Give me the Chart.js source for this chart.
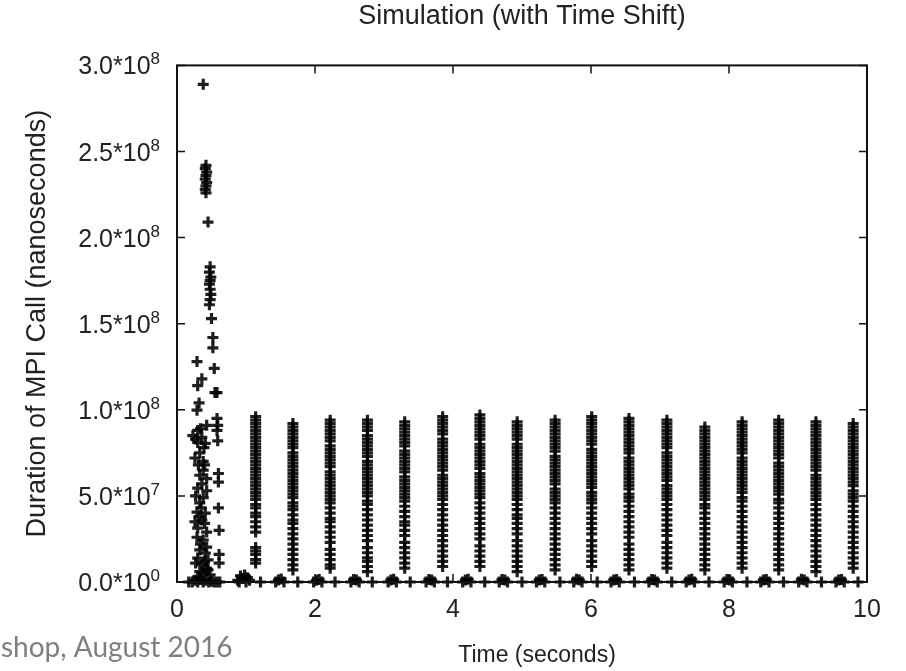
<!DOCTYPE html>
<html lang="en">
<head>
    <meta charset="UTF-8">
    <title>Simulation (with Time Shift)</title>
    <script src="https://cdn.jsdelivr.net/npm/chart.js"></script>
    <style>
        body {
            margin: 0;
            background: #fff;
        }
        #wrap {
            width: 906px;
            height: 671px;
        }
    </style>
</head>
<body>
    <div id="wrap">
        <canvas id="mpiChart" width="906" height="671"></canvas>
    </div>

    <script>
        // values are in units of 1e7 ns, x is in seconds
        const UNIT = 1e7;

        const xTicks = [0, 2, 4, 6, 8, 10];
        const yTickMantissa = ['0.0*10', '5.0*10', '1.0*10', '1.5*10', '2.0*10', '2.5*10', '3.0*10'];
        const yTickExponent = ['0', '7', '8', '8', '8', '8', '8'];

        // early burst, first half second
        const burstPoints = [
            [0.38, 28.9],
            [0.42, 24.2], [0.41, 24.0], [0.43, 23.8], [0.42, 23.6], [0.41, 23.4], [0.43, 23.2], [0.42, 23.0], [0.41, 22.8], [0.42, 22.6],
            [0.45, 20.9],
            [0.48, 18.3], [0.47, 18.0], [0.49, 17.7], [0.48, 17.5], [0.47, 17.3], [0.48, 17.0], [0.49, 16.7], [0.48, 16.4], [0.47, 16.1],
            [0.50, 15.3], [0.52, 14.2], [0.52, 13.6],
            [0.29, 12.8], [0.54, 12.4], [0.36, 11.8], [0.30, 11.4], [0.55, 11.0], [0.32, 10.4], [0.29, 9.98],
            [0.43, 9.1], [0.30, 8.8], [0.23, 8.5], [0.36, 8.4], [0.30, 8.1], [0.41, 8.05], [0.33, 7.5], [0.38, 7.0],
            [0.27, 8.3], [0.34, 8.9], [0.39, 7.8], [0.26, 7.2], [0.31, 6.8], [0.40, 6.8],
            [0.38, 6.5], [0.33, 6.2], [0.43, 6.0], [0.36, 5.7], [0.30, 5.45], [0.43, 5.3], [0.38, 4.9], [0.33, 4.6],
            [0.27, 5.0], [0.35, 4.3], [0.40, 3.4], [0.32, 3.8], [0.26, 3.5], [0.34, 2.2],
            [0.29, 4.06], [0.41, 4.0], [0.36, 3.6], [0.30, 3.13], [0.43, 2.9], [0.29, 2.6], [0.38, 2.44], [0.43, 2.03],
            [0.33, 1.86], [0.41, 1.68], [0.30, 1.39], [0.45, 1.28], [0.36, 0.99], [0.43, 0.81], [0.38, 0.52], [0.48, 0.41],
            [0.27, 1.1], [0.40, 1.2], [0.33, 0.6], [0.45, 0.7], [0.30, 0.3],
            [0.58, 11.0], [0.58, 9.5], [0.59, 9.1], [0.58, 8.8], [0.59, 8.2], [0.60, 6.3], [0.60, 5.8],
            [0.60, 4.3], [0.61, 3.0], [0.61, 1.6], [0.61, 1.1]
        ];

        // the periodic columns
        const columnX = [1.14, 1.68, 2.22, 2.76, 3.30, 3.85, 4.39, 4.93, 5.48, 6.01, 6.55, 7.10, 7.65, 8.19, 8.72, 9.26, 9.80];
        const columnY = [
            [9.6, 9.4, 9.2, 9.0, 8.8, 8.6, 8.4, 8.2, 8.0, 7.8, 7.6, 7.4, 7.2, 7.0, 6.8, 6.6, 6.4, 6.2, 6.0, 5.8, 5.6, 5.4, 5.2, 5.0, 4.8, 4.5, 4.3, 4.0, 3.8, 3.5, 3.2, 2.9, 2.0, 1.8, 1.6, 1.3, 1.1],
            [9.2, 9.0, 8.8, 8.6, 8.4, 8.2, 8.0, 7.8, 7.5, 7.3, 7.1, 6.9, 6.7, 6.5, 6.3, 6.1, 5.9, 5.7, 5.5, 5.3, 5.1, 4.9, 4.6, 4.4, 4.2, 3.9, 3.6, 3.4, 3.1, 2.8, 2.5, 2.2, 1.9, 1.6, 1.3, 1.0, 0.7],
            [9.4, 9.2, 9.0, 8.8, 8.6, 8.4, 8.2, 7.9, 7.7, 7.5, 7.3, 7.1, 6.9, 6.7, 6.4, 6.2, 6.0, 5.8, 5.6, 5.4, 5.2, 5.0, 4.8, 4.6, 4.3, 4.0, 3.7, 3.5, 3.2, 2.9, 2.6, 2.3, 1.9, 1.6, 1.3, 1.0, 0.8],
            [9.4, 9.2, 9.0, 8.8, 8.5, 8.3, 8.1, 7.9, 7.7, 7.5, 7.3, 7.0, 6.8, 6.6, 6.4, 6.2, 6.0, 5.8, 5.6, 5.4, 5.2, 5.0, 4.7, 4.5, 4.2, 3.9, 3.6, 3.3, 3.0, 2.7, 2.4, 2.0, 1.7, 1.4, 1.2, 0.9, 0.6],
            [9.3, 9.1, 8.9, 8.7, 8.5, 8.3, 8.1, 7.9, 7.6, 7.4, 7.2, 7.0, 6.8, 6.6, 6.4, 6.1, 5.9, 5.7, 5.5, 5.3, 5.1, 4.9, 4.7, 4.4, 4.1, 3.8, 3.5, 3.3, 3.0, 2.7, 2.3, 2.0, 1.7, 1.4, 1.1, 0.8],
            [9.6, 9.4, 9.2, 9.0, 8.8, 8.6, 8.3, 8.1, 7.9, 7.7, 7.5, 7.3, 7.1, 6.9, 6.7, 6.5, 6.2, 6.0, 5.8, 5.6, 5.4, 5.2, 5.0, 4.8, 4.5, 4.2, 3.9, 3.6, 3.3, 3.0, 2.7, 2.4, 2.1, 1.8, 1.5, 1.2, 0.9],
            [9.7, 9.5, 9.3, 9.1, 8.9, 8.7, 8.5, 8.3, 8.0, 7.8, 7.6, 7.4, 7.2, 7.0, 6.8, 6.6, 6.3, 6.1, 5.9, 5.7, 5.5, 5.3, 5.1, 4.9, 4.6, 4.3, 4.0, 3.7, 3.4, 3.1, 2.8, 2.5, 2.1, 1.8, 1.5, 1.2, 0.9],
            [9.3, 9.1, 8.9, 8.7, 8.5, 8.3, 8.0, 7.8, 7.6, 7.4, 7.2, 7.0, 6.8, 6.6, 6.4, 6.2, 6.0, 5.8, 5.6, 5.4, 5.2, 5.0, 4.8, 4.5, 4.2, 3.9, 3.7, 3.4, 3.1, 2.8, 2.4, 2.1, 1.8, 1.5, 1.2, 0.9, 0.6],
            [9.4, 9.2, 9.0, 8.8, 8.6, 8.4, 8.2, 8.0, 7.8, 7.6, 7.3, 7.1, 6.9, 6.7, 6.5, 6.3, 6.1, 5.9, 5.7, 5.4, 5.2, 5.0, 4.8, 4.6, 4.3, 4.0, 3.7, 3.4, 3.1, 2.8, 2.5, 2.2, 1.9, 1.6, 1.3, 1.0, 0.7],
            [9.6, 9.4, 9.2, 9.0, 8.8, 8.6, 8.4, 8.2, 8.0, 7.7, 7.5, 7.3, 7.1, 6.9, 6.7, 6.5, 6.3, 6.1, 5.9, 5.7, 5.5, 5.2, 5.0, 4.8, 4.6, 4.3, 4.0, 3.7, 3.4, 3.1, 2.8, 2.4, 2.1, 1.8, 1.5, 1.2, 0.9],
            [9.5, 9.3, 9.1, 8.9, 8.7, 8.5, 8.3, 8.1, 7.9, 7.7, 7.5, 7.2, 7.0, 6.8, 6.6, 6.4, 6.2, 6.0, 5.8, 5.6, 5.4, 5.1, 4.9, 4.7, 4.4, 4.1, 3.8, 3.5, 3.2, 2.9, 2.6, 2.2, 1.9, 1.6, 1.3, 1.0, 0.7],
            [9.4, 9.2, 9.0, 8.8, 8.6, 8.4, 8.2, 8.0, 7.8, 7.5, 7.3, 7.1, 6.9, 6.7, 6.5, 6.3, 6.1, 5.9, 5.6, 5.4, 5.2, 5.0, 4.8, 4.5, 4.2, 3.9, 3.6, 3.3, 3.0, 2.7, 2.3, 2.0, 1.7, 1.4, 1.1, 0.8],
            [9.0, 8.8, 8.6, 8.4, 8.2, 8.0, 7.8, 7.6, 7.4, 7.2, 7.0, 6.8, 6.6, 6.4, 6.2, 6.0, 5.8, 5.6, 5.4, 5.2, 5.0, 4.8, 4.5, 4.3, 4.0, 3.7, 3.4, 3.1, 2.8, 2.5, 2.2, 1.9, 1.6, 1.3, 1.0, 0.7],
            [9.3, 9.1, 8.9, 8.7, 8.5, 8.3, 8.1, 7.9, 7.7, 7.5, 7.2, 7.0, 6.8, 6.6, 6.4, 6.2, 6.0, 5.8, 5.6, 5.4, 5.2, 4.9, 4.7, 4.4, 4.1, 3.8, 3.5, 3.2, 2.9, 2.6, 2.3, 2.0, 1.7, 1.4, 1.1, 0.8],
            [9.4, 9.2, 9.0, 8.8, 8.6, 8.4, 8.2, 8.0, 7.8, 7.6, 7.4, 7.2, 6.9, 6.7, 6.5, 6.3, 6.1, 5.9, 5.7, 5.5, 5.3, 5.1, 4.8, 4.6, 4.3, 4.0, 3.7, 3.4, 3.1, 2.8, 2.5, 2.2, 1.9, 1.6, 1.3, 1.0, 0.7],
            [9.3, 9.1, 8.9, 8.7, 8.5, 8.3, 8.1, 7.9, 7.7, 7.5, 7.3, 7.1, 6.9, 6.7, 6.5, 6.2, 6.0, 5.8, 5.6, 5.4, 5.2, 5.0, 4.8, 4.5, 4.2, 3.9, 3.6, 3.3, 3.0, 2.7, 2.4, 2.1, 1.8, 1.5, 1.2, 0.9, 0.6],
            [9.2, 9.0, 8.8, 8.6, 8.4, 8.2, 8.0, 7.8, 7.6, 7.4, 7.2, 7.0, 6.8, 6.6, 6.4, 6.2, 6.0, 5.8, 5.6, 5.3, 5.1, 4.9, 4.7, 4.4, 4.1, 3.8, 3.5, 3.2, 2.9, 2.6, 2.3, 2.0, 1.7, 1.4, 1.1, 0.8]
        ];

        // short calls sitting on the floor
        const floorPoints = [
            [0.17, 0], [0.22, 0], [0.26, 0.1], [0.30, 0], [0.34, 0.15], [0.38, 0], [0.42, 0.1], [0.46, 0], [0.50, 0.05], [0.54, 0], [0.58, 0], [0.62, 0],
            [0.88, 0.1], [0.90, 0], [0.92, 0.35], [0.95, 0.2], [0.98, 0.4], [1.00, 0], [1.02, 0.25], [1.05, 0.1], [1.21, 0],
            [1.43, 0], [1.47, 0.12], [1.51, 0.18], [1.55, 0], [1.75, 0],
            [1.98, 0], [2.02, 0.1], [2.06, 0.15], [2.10, 0], [2.29, 0],
            [2.52, 0], [2.56, 0.14], [2.60, 0.12], [2.64, 0], [2.83, 0],
            [3.06, 0], [3.10, 0.12], [3.14, 0.16], [3.18, 0], [3.38, 0],
            [3.61, 0], [3.65, 0.15], [3.69, 0.12], [3.73, 0], [3.92, 0],
            [4.14, 0], [4.18, 0.12], [4.22, 0.16], [4.26, 0], [4.46, 0],
            [4.67, 0], [4.71, 0.14], [4.75, 0.12], [4.79, 0], [5.00, 0],
            [5.21, 0], [5.25, 0.12], [5.29, 0.15], [5.33, 0], [5.55, 0],
            [5.75, 0], [5.79, 0.16], [5.83, 0.12], [5.87, 0], [6.09, 0],
            [6.29, 0], [6.33, 0.12], [6.37, 0.14], [6.41, 0], [6.63, 0],
            [6.84, 0], [6.88, 0.15], [6.92, 0.12], [6.96, 0], [7.17, 0],
            [7.38, 0], [7.42, 0.12], [7.46, 0.16], [7.50, 0], [7.71, 0],
            [7.93, 0], [7.97, 0.14], [8.01, 0.12], [8.05, 0], [8.26, 0],
            [8.46, 0], [8.50, 0.12], [8.54, 0.15], [8.58, 0], [8.79, 0],
            [9.01, 0], [9.05, 0.16], [9.09, 0.12], [9.13, 0], [9.34, 0],
            [9.55, 0], [9.59, 0.12], [9.63, 0.14], [9.67, 0], [9.87, 0]
        ];

        // build point list for chart.js
        const points = [];
        burstPoints.forEach(p => points.push({x: p[0], y: p[1] * UNIT}));
        columnX.forEach((cx, i) => {
            columnY[i].forEach(v => points.push({x: cx, y: v * UNIT}));
        });
        floorPoints.forEach(p => points.push({x: p[0], y: p[1] * UNIT}));

        const FONT = '"Liberation Sans", Arial, sans-serif';
        const TEXT = '#222';

        // frame with inward ticks on all four sides, y labels with raised exponent, x title, footer
        const framePlugin = {
            id: 'frame',
            afterDatasetsDraw(chart) {
                const {ctx, chartArea: a, scales: {x, y}} = chart;
                ctx.save();
                ctx.strokeStyle = '#111';
                ctx.lineWidth = 2;
                ctx.strokeRect(a.left, a.top, a.right - a.left, a.bottom - a.top);
                ctx.lineWidth = 1.5;
                ctx.beginPath();
                xTicks.forEach(v => {
                    const px = x.getPixelForValue(v);
                    ctx.moveTo(px, a.bottom); ctx.lineTo(px, a.bottom - 8);
                    ctx.moveTo(px, a.top); ctx.lineTo(px, a.top + 8);
                });
                yTickMantissa.forEach((l, i) => {
                    const py = y.getPixelForValue(i * 5 * UNIT);
                    ctx.moveTo(a.left, py); ctx.lineTo(a.left + 8, py);
                    ctx.moveTo(a.right, py); ctx.lineTo(a.right - 8, py);
                });
                ctx.stroke();

                // y tick labels
                ctx.fillStyle = TEXT;
                ctx.textAlign = 'right';
                ctx.textBaseline = 'alphabetic';
                const labelRight = a.left - 17;
                yTickMantissa.forEach((m, i) => {
                    const py = y.getPixelForValue(i * 5 * UNIT);
                    ctx.font = '17px ' + FONT;
                    const ew = ctx.measureText(yTickExponent[i]).width;
                    ctx.fillText(yTickExponent[i], labelRight, py - 1);
                    ctx.font = '25px ' + FONT;
                    ctx.fillText(m, labelRight - ew, py + 9);
                });

                // x axis title
                ctx.textAlign = 'center';
                ctx.textBaseline = 'middle';
                ctx.font = '23px ' + FONT;
                ctx.fillText('Time (seconds)', 537, 656);
                ctx.restore();
            },
            afterDraw(chart) {
                const ctx = chart.ctx;
                ctx.save();
                ctx.fillStyle = '#7f7f7f';
                ctx.font = '28px Lato, "Open Sans", sans-serif';
                ctx.textBaseline = 'alphabetic';
                ctx.fillText('shop, August 2016', 1, 657);
                ctx.restore();
            }
        };

        const ctx = document.getElementById('mpiChart').getContext('2d');
        new Chart(ctx, {
            type: 'scatter',
            data: {
                datasets: [{
                    label: 'MPI call duration',
                    data: points,
                    pointStyle: 'cross',
                    pointRadius: 5.5,
                    pointBorderWidth: 3.2,
                    borderColor: 'rgba(0,0,0,0.88)',
                    backgroundColor: 'rgba(0,0,0,0.88)',
                    clip: false
                }]
            },
            options: {
                responsive: false,
                animation: false,
                events: [],
                layout: { padding: { left: 0, right: 39, top: 0, bottom: 0 } },
                plugins: {
                    legend: { display: false },
                    tooltip: { enabled: false },
                    title: {
                        display: true,
                        text: 'Simulation (with Time Shift)',
                        fullSize: false,
                        color: TEXT,
                        font: { family: FONT, size: 27, weight: 'normal' },
                        padding: { top: 0, bottom: 33 }
                    }
                },
                scales: {
                    x: {
                        type: 'linear',
                        min: 0,
                        max: 10,
                        afterBuildTicks: s => { s.ticks = xTicks.map(v => ({value: v})); },
                        grid: { display: false, drawTicks: false },
                        border: { display: false },
                        ticks: {
                            color: TEXT,
                            padding: 13,
                            font: { family: FONT, size: 25 }
                        },
                        title: { display: false },
                        afterFit: s => { s.height = 89; }
                    },
                    y: {
                        type: 'linear',
                        min: 0,
                        max: 3e8,
                        afterBuildTicks: s => { s.ticks = yTickMantissa.map((l, i) => ({value: i * 5 * UNIT})); },
                        grid: { display: false, drawTicks: false },
                        border: { display: false },
                        ticks: { display: false },
                        title: {
                            display: true,
                            text: 'Duration of MPI Call (nanoseconds)',
                            color: TEXT,
                            font: { family: FONT, size: 27 },
                            padding: { top: 21, bottom: 0 }
                        },
                        afterFit: s => { s.width = 177; }
                    }
                }
            },
            plugins: [framePlugin]
        });
    </script>
</body>
</html>
